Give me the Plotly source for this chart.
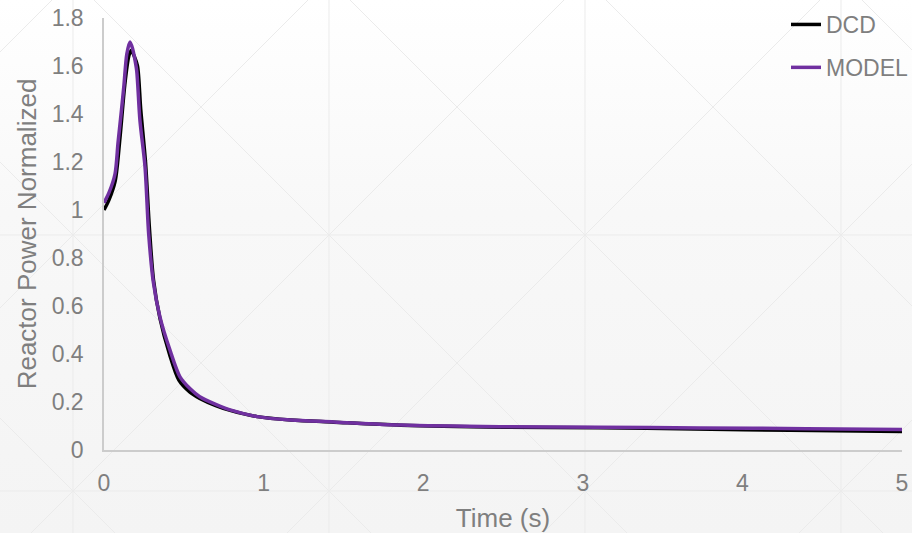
import base64
import plotly.graph_objects as go

# ---------------- data ----------------
time_dcd = [0.0, 0.03, 0.07, 0.10, 0.13, 0.155, 0.17, 0.19, 0.21, 0.23, 0.26, 0.285,
            0.31, 0.35, 0.41, 0.47, 0.54, 0.60, 0.70, 0.79, 0.96, 1.17, 1.44, 1.86,
            2.5, 3.1, 3.7, 4.3, 5.0]
power_dcd = [1.00, 1.04, 1.12, 1.30, 1.52, 1.64, 1.665, 1.64, 1.60, 1.42, 1.20, 0.92,
             0.71, 0.55, 0.40, 0.29, 0.24, 0.215, 0.185, 0.165, 0.139, 0.125, 0.116, 0.103,
             0.095, 0.093, 0.088, 0.082, 0.077]

time_model = [0.0, 0.03, 0.069, 0.088, 0.11, 0.125, 0.143, 0.163, 0.18, 0.19, 0.205,
              0.225, 0.257, 0.28, 0.309, 0.35, 0.413, 0.476, 0.54, 0.60, 0.70, 0.79,
              0.96, 1.17, 1.44, 1.86, 2.48, 3.1, 3.73, 4.4, 5.0]
power_model = [1.03, 1.07, 1.15, 1.28, 1.42, 1.52, 1.65, 1.70, 1.67, 1.64, 1.58,
               1.375, 1.18, 0.90, 0.70, 0.556, 0.417, 0.305, 0.255, 0.222, 0.19, 0.167,
               0.139, 0.125, 0.117, 0.104, 0.097, 0.095, 0.092, 0.089, 0.085]

x_ticks = [0, 1, 2, 3, 4, 5]
y_ticks = [0, 0.2, 0.4, 0.6, 0.8, 1, 1.2, 1.4, 1.6, 1.8]
y_tick_labels = ["0", "0.2", "0.4", "0.6", "0.8", "1", "1.2", "1.4", "1.6", "1.8"]

# ---------------- layout geometry ----------------
W, H = 912, 533
ML, MR, MT, MB = 104, 10, 18, 83
PW, PH = W - ML - MR, H - MT - MB

# decorative background (gradient + lattice of lines)
lines = []
col = "#ebebeb"
for k in range(-1, 5):
    x = 73 + 256 * k
    lines.append(f'<line x1="{x}" y1="0" x2="{x}" y2="{H}" stroke="{col}" stroke-width="1"/>')
for k in range(-1, 3):
    y = 235 + 256 * k
    lines.append(f'<line x1="0" y1="{y}" x2="{W}" y2="{y}" stroke="{col}" stroke-width="1"/>')
for k in range(-4, 6):
    c = -162 + 256 * k  # x - y = c
    lines.append(f'<line x1="{c - 100}" y1="-100" x2="{c + 700}" y2="700" stroke="{col}" stroke-width="1"/>')
for k in range(-2, 8):
    c = 308 + 256 * k  # x + y = c
    lines.append(f'<line x1="{c + 100}" y1="-100" x2="{c - 700}" y2="700" stroke="{col}" stroke-width="1"/>')

svg = (f'<svg xmlns="http://www.w3.org/2000/svg" width="{W}" height="{H}" viewBox="0 0 {W} {H}">'
       '<defs><linearGradient id="g" x1="0" y1="0" x2="0" y2="1">'
       '<stop offset="0" stop-color="#ffffff"/><stop offset="0.4" stop-color="#f8f8f8"/>'
       '<stop offset="1" stop-color="#f4f4f4"/></linearGradient></defs>'
       f'<rect x="0" y="0" width="{W}" height="{H}" fill="url(#g)"/>'
       + "".join(lines) + '</svg>')
bg_src = "data:image/svg+xml;base64," + base64.b64encode(svg.encode()).decode()

fig = go.Figure()
fig.add_trace(go.Scatter(x=time_dcd, y=power_dcd, mode="lines", name="DCD",
                         line=dict(color="#000000", width=3.5, shape="spline", smoothing=0.8),
                         legendgroup="a"))
fig.add_trace(go.Scatter(x=time_model, y=power_model, mode="lines", name="MODEL",
                         line=dict(color="#7030A0", width=3.5, shape="spline", smoothing=0.8),
                         legendgroup="b"))

font_color = "#7f7f7f"
fig.update_layout(
    width=W, height=H,
    margin=dict(l=ML, r=MR, t=MT, b=MB, autoexpand=False),
    paper_bgcolor="#f7f7f7",
    plot_bgcolor="rgba(0,0,0,0)",
    font=dict(family="Liberation Sans, Arial, sans-serif", color=font_color),
    images=[dict(source=bg_src, xref="paper", yref="paper",
                 x=-ML / PW, y=1 + MT / PH, sizex=W / PW, sizey=H / PH,
                 xanchor="left", yanchor="top", sizing="stretch", layer="below")],
    showlegend=True,
    legend=dict(xref="container", yref="container", x=786 / W, y=1 - 3 / H,
                xanchor="left", yanchor="top",
                bgcolor="rgba(0,0,0,0)", font=dict(size=23, color=font_color),
                tracegroupgap=10, traceorder="grouped"),
    xaxis=dict(range=[0, 5], tickvals=x_ticks, showgrid=False, zeroline=False,
               showline=True, linecolor="#cccccc", linewidth=1.5, automargin=False,
               tickfont=dict(size=23, color=font_color), ticks="", ticklabelstandoff=12,
               title=dict(text="Time (s)", font=dict(size=26, color=font_color), standoff=13)),
    yaxis=dict(range=[0, 1.8], tickvals=y_ticks, ticktext=y_tick_labels, showgrid=False,
               zeroline=False, showline=True, linecolor="#cccccc", linewidth=1.5,
               automargin=False,
               tickfont=dict(size=23, color=font_color), ticks="", ticklabelstandoff=14,
               title=dict(text="Reactor Power Normalized", font=dict(size=26, color=font_color),
                          standoff=8)),
)

fig.write_html("out.html", config={"displayModeBar": False},
               post_script="document.body.style.margin='0';document.body.style.overflow='hidden';")
